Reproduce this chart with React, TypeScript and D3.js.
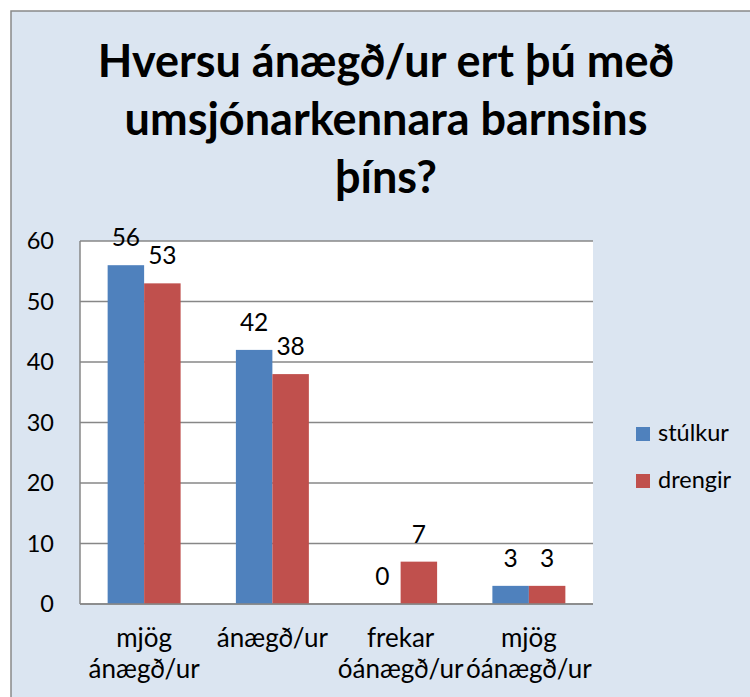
import React from 'react';
import * as d3 from 'd3';

const categories = [['mjög', 'ánægð/ur'], ['ánægð/ur'], ['frekar', 'óánægð/ur'], ['mjög', 'óánægð/ur']];
const seriesNames = ['stúlkur', 'drengir'];
const stulkur = [56, 42, 0, 3];
const drengir = [53, 38, 7, 3];
const yTicks = [0, 10, 20, 30, 40, 50, 60];
const titleLines = ['Hversu ánægð/ur ert þú með', 'umsjónarkennara barnsins', 'þíns?'];

const colors = ['#4f81bd', '#c0504d'];
const font = 'Lato, "Open Sans", sans-serif';

const App = () => {
  const width = 750;
  const height = 697;
  const plot = { left: 80, right: 593, top: 241, bottom: 604 };

  const keys = categories.map((_, i) => String(i));
  const x0 = d3.scaleBand().domain(keys).range([plot.left, plot.right]).paddingInner(0.431).paddingOuter(0.2155);
  const x1 = d3.scaleBand().domain(seriesNames).range([0, x0.bandwidth()]);
  const y = d3.scaleLinear().domain([0, 60]).range([plot.bottom, plot.top]);

  const series = [stulkur, drengir];

  return (
    <svg width={width} height={height} style={{ position: 'absolute', left: 0, top: 0 }} fontFamily={font}>
      <rect x={0} y={0} width={width} height={height} fill="#ffffff" />
      <rect x={11} y={11} width={width + 10} height={height + 10} fill="#dbe5f1" stroke="#898989" strokeWidth={1.5} />

      {/* title */}
      {titleLines.map((t, i) => (
        <text key={t} x={386} y={77 + i * 58} textAnchor="middle" fontSize={45} fontWeight="bold" fill="#000">
          {t}
        </text>
      ))}

      {/* plot area */}
      <rect x={plot.left} y={plot.top} width={plot.right - plot.left} height={plot.bottom - plot.top} fill="#ffffff" />

      {/* gridlines */}
      {yTicks.map(t => (
        <g key={t}>
          <line x1={plot.left} x2={plot.right} y1={y(t)} y2={y(t)} stroke="#878787" strokeWidth={1.5} />
          <text x={54} y={y(t) + 8} textAnchor="end" fontSize={23.5} fill="#000">{t}</text>
        </g>
      ))}
      <line x1={plot.left} x2={plot.left} y1={plot.top} y2={plot.bottom} stroke="#878787" strokeWidth={1.5} />

      {/* bars */}
      {series.map((vals, si) => (
        <g key={seriesNames[si]}>
          {vals.map((v, ci) => {
            const bx = (x0(String(ci)) ?? 0) + (x1(seriesNames[si]) ?? 0);
            const bw = x1.bandwidth();
            return (
              <g key={ci}>
                {v > 0 && (
                  <rect x={bx} y={y(v)} width={bw} height={y(0) - y(v)} fill={colors[si]} />
                )}
                <text x={bx + bw / 2} y={y(v) - 19} textAnchor="middle" fontSize={24.5} fill="#000">{v}</text>
              </g>
            );
          })}
        </g>
      ))}
      <line x1={plot.left} x2={plot.right} y1={plot.bottom} y2={plot.bottom} stroke="#878787" strokeWidth={1.5} />

      {/* category labels */}
      {categories.map((lines, ci) => (
        <text key={ci} x={(x0(String(ci)) ?? 0) + x0.bandwidth() / 2} y={647} textAnchor="middle" fontSize={26} fill="#000">
          {lines.map((l, li) => (
            <tspan key={li} x={(x0(String(ci)) ?? 0) + x0.bandwidth() / 2} dy={li === 0 ? 0 : 31}>{l}</tspan>
          ))}
        </text>
      ))}

      {/* legend */}
      {seriesNames.map((s, i) => (
        <g key={s} transform={`translate(636,${427 + i * 47})`}>
          <rect x={0} y={0} width={14} height={14} fill={colors[i]} />
          <text x={22} y={13.5} fontSize={23.5} fill="#000">{s}</text>
        </g>
      ))}
    </svg>
  );
};

export default App;
